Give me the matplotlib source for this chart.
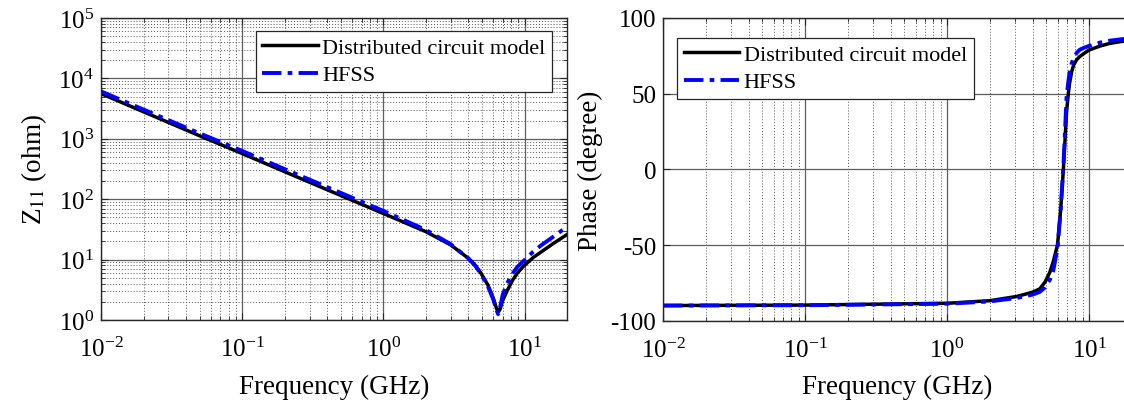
import matplotlib
matplotlib.use('Agg')
import matplotlib.pyplot as plt
from matplotlib.ticker import LogLocator, NullFormatter, MultipleLocator

plt.rcParams['font.family'] = ['Liberation Serif', 'DejaVu Serif']
plt.rcParams['mathtext.fontset'] = 'stix'
plt.rcParams['axes.unicode_minus'] = False

# |Z11| (GHz, ohm)
z_freq = [0.01, 0.02, 0.05, 0.1, 0.2, 0.5, 1, 2, 3, 4, 4.5, 4.9, 5.5, 6.0,
          6.3, 6.5, 6.7, 7.0, 7.5, 8.2, 8.9, 9.9, 11.5, 13, 16, 20]
z_model = [5600, 2800, 1120, 570, 285, 115, 58, 29, 17.5, 10.5, 7.9, 6.0, 3.8,
           2.3, 1.6, 1.35, 1.5, 2.1, 3.0, 4.5, 6.0, 7.9, 10.8, 13.2, 18.5, 26]
z_hfss = [6100, 3050, 1230, 630, 315, 127, 64, 31, 18, 10.5, 7.8, 5.8, 3.6,
          2.2, 1.5, 1.25, 1.6, 2.6, 4.0, 5.8, 7.6, 9.6, 13.5, 17, 24, 35]

# phase (GHz, degree)
ph_freq = [0.01, 0.1, 1.0, 2.0, 3.1, 4.0, 4.5, 4.9, 5.3, 5.6, 6.0, 6.3, 6.6,
           6.95, 7.15, 7.3, 7.55, 7.8, 8.2, 8.6, 9.2, 10, 12, 14, 17, 20]
ph_model = [-90, -89.7, -88.5, -86.8, -84, -81.2, -79, -74.5, -68, -61, -50,
            -28, 0, 38, 50, 57, 64.5, 69, 72.5, 74.5, 76.5, 78.8, 81.5, 83.2,
            84.5, 85]
ph_hfss = [-90, -89.8, -88.8, -87.3, -85, -82.8, -81, -78, -73, -67, -52,
           -28, 2, 48, 58, 64, 70, 74, 77, 79, 80.3, 81.5, 83.8, 85, 86, 86.5]

labels = ['Distributed circuit model', 'HFSS']
dash = (0, (5, 1.6, 1.2, 1.6))

fig = plt.figure(figsize=(11.24, 4.02), dpi=100)
ax1 = fig.add_axes([0.0899, 0.2015, 0.4146, 0.7512])
ax2 = fig.add_axes([0.5899, 0.1998, 0.4170, 0.7530])


def style(ax):
    ax.set_xscale('log')
    ax.set_xlim(1e-2, 20)
    ax.xaxis.set_major_locator(LogLocator(base=10, numticks=10))
    ax.xaxis.set_minor_locator(LogLocator(base=10, subs=range(2, 10), numticks=20))
    ax.xaxis.set_minor_formatter(NullFormatter())
    ax.tick_params(which='both', direction='in', top=True, right=True,
                   colors='#262626', labelcolor='black', labelsize=18)
    ax.tick_params(axis='x', pad=12)
    ax.tick_params(axis='y', pad=5)
    ax.tick_params(which='major', length=5)
    ax.tick_params(which='minor', length=3)
    for s in ax.spines.values():
        s.set_color('#262626')
        s.set_linewidth(1.0)
    ax.grid(True, which='major', color='#5e5e5e', lw=0.9, ls='-')
    ax.set_axisbelow(True)
    ax.set_xlabel('Frequency (GHz)', fontsize=19.5, labelpad=9)


# left panel: impedance magnitude
style(ax1)
ax1.set_yscale('log')
ax1.set_ylim(1, 1e5)
ax1.yaxis.set_major_locator(LogLocator(base=10, numticks=10))
ax1.yaxis.set_minor_locator(LogLocator(base=10, subs=range(2, 10), numticks=20))
ax1.yaxis.set_minor_formatter(NullFormatter())
ax1.grid(True, which='minor', color='#555555', lw=0.7, ls=(0, (1, 2)))
ax1.plot(z_freq, z_model, color='black', lw=2.5, label=labels[0])
ax1.plot(z_freq, z_hfss, color='#0000ff', lw=2.8, ls=dash, label=labels[1])
ax1.set_ylabel(r'Z$_{\rm 11}$ (ohm)', fontsize=19.5, labelpad=7)
leg1 = ax1.legend(loc='upper right', bbox_to_anchor=(0.968, 0.957), fontsize=16,
                  handlelength=2.5, handletextpad=0.2, borderpad=0.3,
                  labelspacing=0.3, borderaxespad=0, fancybox=False,
                  framealpha=1, edgecolor='#262626')

# right panel: phase
style(ax2)
ax2.set_ylim(-100, 100)
ax2.yaxis.set_major_locator(MultipleLocator(50))
ax2.grid(True, which='minor', axis='x', color='#555555', lw=0.7, ls=(0, (1, 2)))
ax2.plot(ph_freq, ph_model, color='black', lw=2.5, label=labels[0])
ax2.plot(ph_freq, ph_hfss, color='#0000ff', lw=2.8, ls=dash, label=labels[1])
ax2.set_ylabel('Phase (degree)', fontsize=19.5, labelpad=5)
leg2 = ax2.legend(loc='upper left', bbox_to_anchor=(0.030, 0.934), fontsize=16,
                  handlelength=2.5, handletextpad=0.2, borderpad=0.3,
                  labelspacing=0.3, borderaxespad=0, fancybox=False,
                  framealpha=1, edgecolor='#262626')
for leg in (leg1, leg2):
    leg.get_frame().set_linewidth(0.9)

fig.savefig('out.png', dpi=100)
